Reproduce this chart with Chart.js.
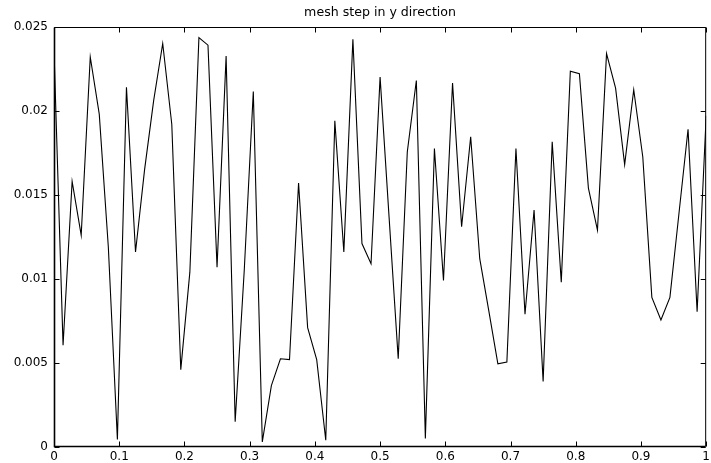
<!DOCTYPE html>
<html>
<head>
<meta charset="utf-8">
<title>mesh step in y direction</title>
<script src="https://cdn.jsdelivr.net/npm/chart.js@4.4.1/dist/chart.umd.min.js"></script>
<style>
    html, body { margin: 0; padding: 0; background: #fff; overflow: hidden; }
    #wrap { width: 711px; height: 463px; overflow: hidden; }
</style>
</head>
<body>
<div id="wrap">
    <canvas id="meshChart" width="713" height="463"></canvas>
</div>
<script>
    "use strict";

    // mesh nodes (x) and step size in y direction
    var meshX = [
        0, 0.0139, 0.0278, 0.0417, 0.0556, 0.0694, 0.0833, 0.0972, 0.1111, 0.125,
        0.1389, 0.1528, 0.1667, 0.1806, 0.1944, 0.2083, 0.2222, 0.2361, 0.25, 0.2639,
        0.2778, 0.2917, 0.3056, 0.3194, 0.3333, 0.3472, 0.3611, 0.375, 0.3889, 0.4028,
        0.4167, 0.4306, 0.4444, 0.4583, 0.4722, 0.4861, 0.5, 0.5139, 0.5278, 0.5417,
        0.5556, 0.5694, 0.5833, 0.5972, 0.6111, 0.625, 0.6389, 0.6528, 0.6667, 0.6806,
        0.6944, 0.7083, 0.7222, 0.7361, 0.75, 0.7639, 0.7778, 0.7917, 0.8056, 0.8194,
        0.8333, 0.8472, 0.8611, 0.875, 0.8889, 0.9028, 0.9167, 0.9306, 0.9444, 0.9583,
        0.9722, 0.9861, 1
    ];

    var meshStepY = [
        0.0236, 0.00605, 0.0158, 0.0126, 0.0232, 0.0198, 0.0119, 0.00045, 0.0214, 0.0116,
        0.0165, 0.0206, 0.0240, 0.0192, 0.0046, 0.0104, 0.02435, 0.0239, 0.0107, 0.02325,
        0.0015, 0.0105, 0.02115, 0.0003, 0.00365, 0.00525, 0.0052, 0.0157, 0.0071, 0.0052,
        0.0004, 0.0194, 0.0116, 0.02425, 0.0121, 0.0109, 0.0220, 0.0136, 0.00525, 0.01755,
        0.0218, 0.0005, 0.01775, 0.0099, 0.02165, 0.0131, 0.01845, 0.0112, 0.0081, 0.00495,
        0.00505, 0.01775, 0.0079, 0.0141, 0.0039, 0.01815, 0.0098, 0.02235, 0.0222, 0.0154,
        0.0129, 0.0234, 0.02135, 0.0168, 0.02125, 0.01725, 0.0089, 0.00755, 0.0089, 0.0139,
        0.0189, 0.00805, 0.0197
    ];

    var xTicks = [0, 0.1, 0.2, 0.3, 0.4, 0.5, 0.6, 0.7, 0.8, 0.9, 1];
    var yTicks = [0, 0.005, 0.01, 0.015, 0.02, 0.025];
    var titleText = "mesh step in y direction";

    var VISIBLE_W = 711;

    var points = meshX.map(function (x, i) {
        return { x: x, y: meshStepY[i] };
    });

    // box round the axes with inward ticks on all four sides, title over the axes
    var axesBox = {
        id: "axesBox",
        afterDraw: function (chart) {
            var ctx = chart.ctx;
            var a = chart.chartArea;
            var xs = chart.scales.x;
            var ys = chart.scales.y;
            var left = Math.round(a.left) + 0.5;
            var top = Math.round(a.top) + 0.5;
            var bottom = Math.round(a.bottom) - 0.5;
            var right = Math.min(a.right, VISIBLE_W) - 0.5;

            ctx.save();
            ctx.strokeStyle = "#000";
            ctx.lineWidth = 1;
            ctx.beginPath();
            ctx.moveTo(left, top);
            ctx.lineTo(right, top);
            ctx.lineTo(right, bottom);
            ctx.stroke();

            ctx.lineWidth = 1.6;
            ctx.beginPath();
            ctx.moveTo(left, top);
            ctx.lineTo(left, bottom);
            ctx.lineTo(right, bottom);
            ctx.stroke();

            ctx.lineWidth = 1;
            ctx.beginPath();
            xTicks.forEach(function (v) {
                var px = Math.round(xs.getPixelForValue(v)) + 0.5;
                ctx.moveTo(px, bottom);
                ctx.lineTo(px, bottom - 5);
                ctx.moveTo(px, top);
                ctx.lineTo(px, top + 5);
            });
            yTicks.forEach(function (v) {
                var py = Math.round(ys.getPixelForValue(v)) + 0.5;
                ctx.moveTo(left, py);
                ctx.lineTo(left + 5, py);
                ctx.moveTo(right, py);
                ctx.lineTo(right - 5, py);
            });
            ctx.stroke();

            ctx.fillStyle = "#000";
            ctx.font = "12.6px 'DejaVu Sans', sans-serif";
            ctx.textAlign = "center";
            ctx.textBaseline = "middle";
            ctx.fillText(titleText, (a.left + a.right) / 2, 13);
            ctx.restore();
        }
    };

    var tickFont = { family: "'DejaVu Sans', sans-serif", size: 12 };

    var ctx = document.getElementById("meshChart").getContext("2d");
    var meshChart = new Chart(ctx, {
        type: "line",
        data: {
            datasets: [{
                label: "mesh step",
                data: points,
                borderColor: "#000",
                borderWidth: 1.1,
                pointRadius: 0,
                tension: 0,
                fill: false
            }]
        },
        options: {
            responsive: false,
            animation: false,
            devicePixelRatio: 1,
            layout: { autoPadding: false, padding: { top: 26.7, left: 0, right: 0, bottom: 0 } },
            plugins: {
                legend: { display: false },
                tooltip: { enabled: false },
                title: { display: false }
            },
            scales: {
                x: {
                    type: "linear",
                    min: 0,
                    max: 1,
                    afterBuildTicks: function (scale) {
                        scale.ticks = xTicks.map(function (v) { return { value: v }; });
                    },
                    afterFit: function (scale) { scale.height = 16; },
                    grid: { display: false, drawTicks: false },
                    border: { display: false },
                    ticks: {
                        color: "#000",
                        font: tickFont,
                        padding: 3,
                        autoSkip: false,
                        maxRotation: 0,
                        callback: function (v) { return String(+v.toFixed(1)); }
                    }
                },
                y: {
                    min: 0,
                    max: 0.025,
                    afterBuildTicks: function (scale) {
                        scale.ticks = yTicks.map(function (v) { return { value: v }; });
                    },
                    afterFit: function (scale) { scale.width = 54; },
                    grid: { display: false, drawTicks: false },
                    border: { display: false },
                    ticks: {
                        color: "#000",
                        font: tickFont,
                        padding: 6,
                        callback: function (v) { return String(+v.toFixed(3)); }
                    }
                }
            }
        },
        plugins: [axesBox]
    });
</script>
</body>
</html>
